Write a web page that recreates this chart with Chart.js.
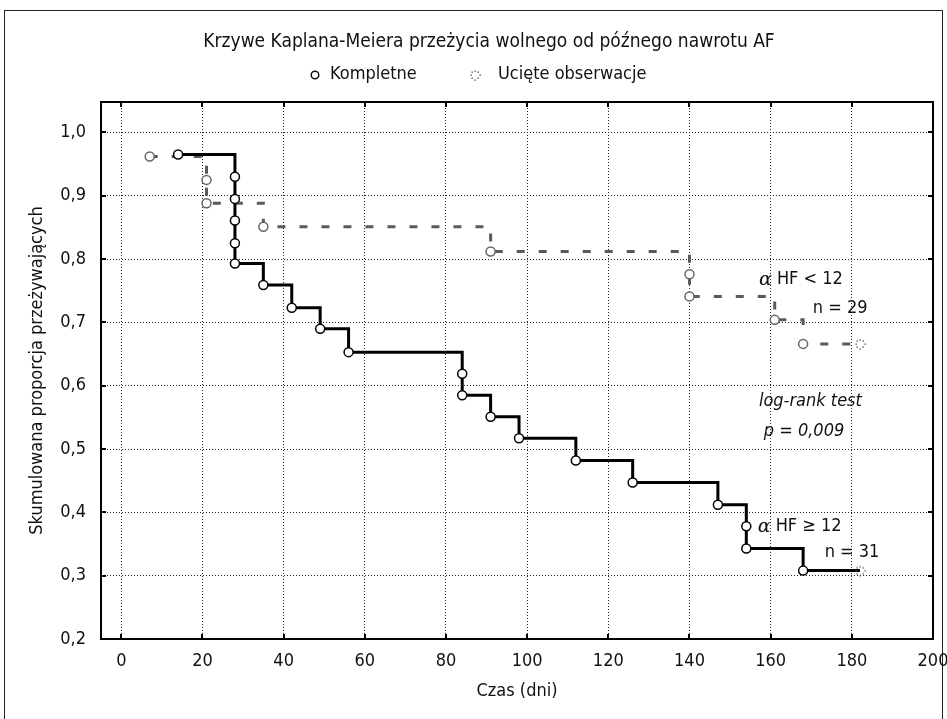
<!DOCTYPE html>
<html>
<head>
<meta charset="utf-8">
<script src="https://cdn.jsdelivr.net/npm/chart.js@4.4.0/dist/chart.umd.min.js"></script>
<style>
  html, body { margin: 0; padding: 0; background: #fff; }
  #wrap { width: 947px; height: 719px; position: relative; }
</style>
</head>
<body>
<div id="wrap"><canvas id="kmChart" width="947" height="719"></canvas></div>
<script>
// axis ticks
const xTicks = [0, 20, 40, 60, 80, 100, 120, 140, 160, 180, 200];
const yTicks = [0.2, 0.3, 0.4, 0.5, 0.6, 0.7, 0.8, 0.9, 1.0];

// HF < 12, n = 29 (grey dashed)
const lowTimes = [7, 21, 21, 35, 91, 140, 140, 161, 168];
const lowSurv = [0.962, 0.925, 0.888, 0.851, 0.812, 0.776, 0.741, 0.704, 0.666];
const lowCensTimes = [182];
const lowCensSurv = [0.666];

// HF >= 12, n = 31 (black solid)
const highTimes = [14, 28, 28, 28, 28, 28, 35, 42, 49, 56, 84, 84, 91, 98, 112, 126, 147, 154, 154, 168];
const highSurv = [0.965, 0.930, 0.895, 0.861, 0.825, 0.793, 0.759, 0.723, 0.690, 0.653, 0.619, 0.585,
                  0.551, 0.517, 0.482, 0.447, 0.412, 0.378, 0.343, 0.308];
const highCensTimes = [182];
const highCensSurv = [0.308];

const FONT = '"Liberation Sans Narrow", "Arial Narrow", "DejaVu Sans Condensed", sans-serif';
const GREY = '#5a5a5a';

const toPoints = (xs, ys) => xs.map((x, i) => ({ x: x, y: ys[i] }));

// small dotted circle used for censored observations
function makeCensorMark(color) {
    const c = document.createElement('canvas');
    c.width = 14; c.height = 14;
    const g = c.getContext('2d');
    g.fillStyle = color;
    for (let i = 0; i < 8; i++) {
        const a = i * Math.PI / 4;
        g.fillRect(Math.round(7 + 4.5 * Math.cos(a)) - 0.5, Math.round(7 + 4.5 * Math.sin(a)) - 0.5, 1.3, 1.3);
    }
    return c;
}
const censorMark = makeCensorMark('#444');

// text annotations, in data coordinates
const notes = [
    { text: 'HF < 12', alpha: true, x: 157.1, y: 0.768 },
    { text: 'n = 29', x: 170.4, y: 0.722 },
    { text: 'log-rank test', italic: true, x: 157.1, y: 0.575 },
    { text: 'p = 0,009', italic: true, x: 158.3, y: 0.528 },
    { text: 'HF \u2265 12', alpha: true, x: 156.8, y: 0.378 },
    { text: 'n = 31', x: 173.3, y: 0.337 }
];

const framePlugin = {
    id: 'frame',
    beforeDraw(chart) {
        const ctx = chart.ctx;
        ctx.save();
        ctx.fillStyle = '#fff';
        ctx.fillRect(0, 0, chart.width, chart.height);
        ctx.strokeStyle = '#222';
        ctx.lineWidth = 1;
        ctx.strokeRect(4.5, 10.5, 938, 740);
        ctx.restore();
    },
    beforeDatasetsDraw(chart) {
        const { ctx, chartArea: a, scales } = chart;
        ctx.save();
        ctx.strokeStyle = '#000';
        ctx.lineWidth = 2;
        ctx.strokeRect(a.left, a.top, a.right - a.left, a.bottom - a.top);
        // inward ticks on all four sides
        ctx.beginPath();
        xTicks.forEach(v => {
            const px = Math.round(scales.x.getPixelForValue(v));
            ctx.moveTo(px, a.top); ctx.lineTo(px, a.top + 5);
            ctx.moveTo(px, a.bottom); ctx.lineTo(px, a.bottom - 5);
        });
        yTicks.forEach(v => {
            const py = Math.round(scales.y.getPixelForValue(v));
            ctx.moveTo(a.left, py); ctx.lineTo(a.left + 5, py);
            ctx.moveTo(a.right, py); ctx.lineTo(a.right - 5, py);
        });
        ctx.stroke();
        ctx.restore();
    },
    afterDraw(chart) {
        const { ctx, scales } = chart;
        ctx.save();
        ctx.fillStyle = '#111';
        ctx.textBaseline = 'middle';
        // title
        ctx.font = '19px ' + FONT;
        ctx.textAlign = 'center';
        ctx.fillText('Krzywe Kaplana-Meiera przeżycia wolnego od późnego nawrotu AF', 489, 42);
        // legend
        ctx.font = '18px ' + FONT;
        ctx.textAlign = 'left';
        ctx.beginPath();
        ctx.arc(315, 75, 3.8, 0, Math.PI * 2);
        ctx.lineWidth = 1.5;
        ctx.strokeStyle = '#111';
        ctx.stroke();
        ctx.fillText('Kompletne', 330, 74);
        ctx.drawImage(censorMark, 468, 68);
        ctx.fillText('Ucięte obserwacje', 498, 74);
        // annotations
        notes.forEach(n => {
            let px = scales.x.getPixelForValue(n.x);
            const py = scales.y.getPixelForValue(n.y);
            if (n.alpha) {
                ctx.font = 'italic 19px "DejaVu Serif", serif';
                ctx.fillText('\u03b1', px, py + 1);
                px += 18;
            }
            ctx.font = (n.italic ? 'italic ' : '') + '18px ' + FONT;
            ctx.fillText(n.text, px, py);
        });
        ctx.restore();
    }
};

new Chart(document.getElementById('kmChart'), {
    type: 'line',
    data: {
        datasets: [
            { data: toPoints(lowTimes.concat(lowCensTimes), lowSurv.concat(lowCensSurv)), stepped: true,
              borderColor: GREY, borderWidth: 3, borderDash: [8, 14], pointRadius: 0, fill: false, order: 6 },
            { data: toPoints(lowTimes, lowSurv), showLine: false, pointStyle: 'circle', pointRadius: 4.5,
              pointBorderWidth: 1.5, pointBorderColor: '#666', pointBackgroundColor: '#fff', order: 5 },
            { data: toPoints(lowCensTimes, lowCensSurv), showLine: false, pointStyle: censorMark, order: 4 },
            { data: toPoints(highTimes.concat(highCensTimes), highSurv.concat(highCensSurv)), stepped: true,
              borderColor: '#000', borderWidth: 3, pointRadius: 0, fill: false, order: 3 },
            { data: toPoints(highTimes, highSurv), showLine: false, pointStyle: 'circle', pointRadius: 4.5,
              pointBorderWidth: 1.5, pointBorderColor: '#000', pointBackgroundColor: '#fff', order: 2 },
            { data: toPoints(highCensTimes, highCensSurv), showLine: false, pointStyle: censorMark, order: 1 }
        ]
    },
    options: {
        responsive: false,
        animation: false,
        devicePixelRatio: 1,
        layout: { padding: { top: 102, right: 14, bottom: 0, left: 0 } },
        plugins: { legend: { display: false }, title: { display: false }, tooltip: { enabled: false } },
        scales: {
            x: {
                type: 'linear',
                min: -5,
                max: 200,
                afterBuildTicks: s => { s.ticks = xTicks.map(v => ({ value: v })); },
                afterFit: s => { s.height = 80; s.paddingLeft = 0; s.paddingRight = 0; },
                grid: { color: '#222', lineWidth: 1, drawTicks: false },
                border: { display: false, dash: [1, 2] },
                ticks: { color: '#111', font: { family: FONT, size: 18 }, padding: 12, maxRotation: 0,
                         callback: v => String(v) },
                title: { display: true, text: 'Czas (dni)', color: '#111', font: { family: FONT, size: 18 },
                         padding: { top: 0, bottom: 17 } }
            },
            y: {
                type: 'linear',
                min: 0.2,
                max: 1.048,
                afterBuildTicks: s => { s.ticks = yTicks.map(v => ({ value: v })); },
                afterFit: s => { s.width = 101; },
                grid: { color: '#222', lineWidth: 1, drawTicks: false },
                border: { display: false, dash: [1, 2] },
                ticks: { color: '#111', font: { family: FONT, size: 18 }, padding: 15,
                         callback: v => v.toFixed(1).replace('.', ',') },
                title: { display: true, text: 'Skumulowana proporcja przeżywających', color: '#111',
                         font: { family: FONT, size: 18 }, padding: { top: 27, bottom: 0 } }
            }
        }
    },
    plugins: [framePlugin]
});
</script>
</body>
</html>
